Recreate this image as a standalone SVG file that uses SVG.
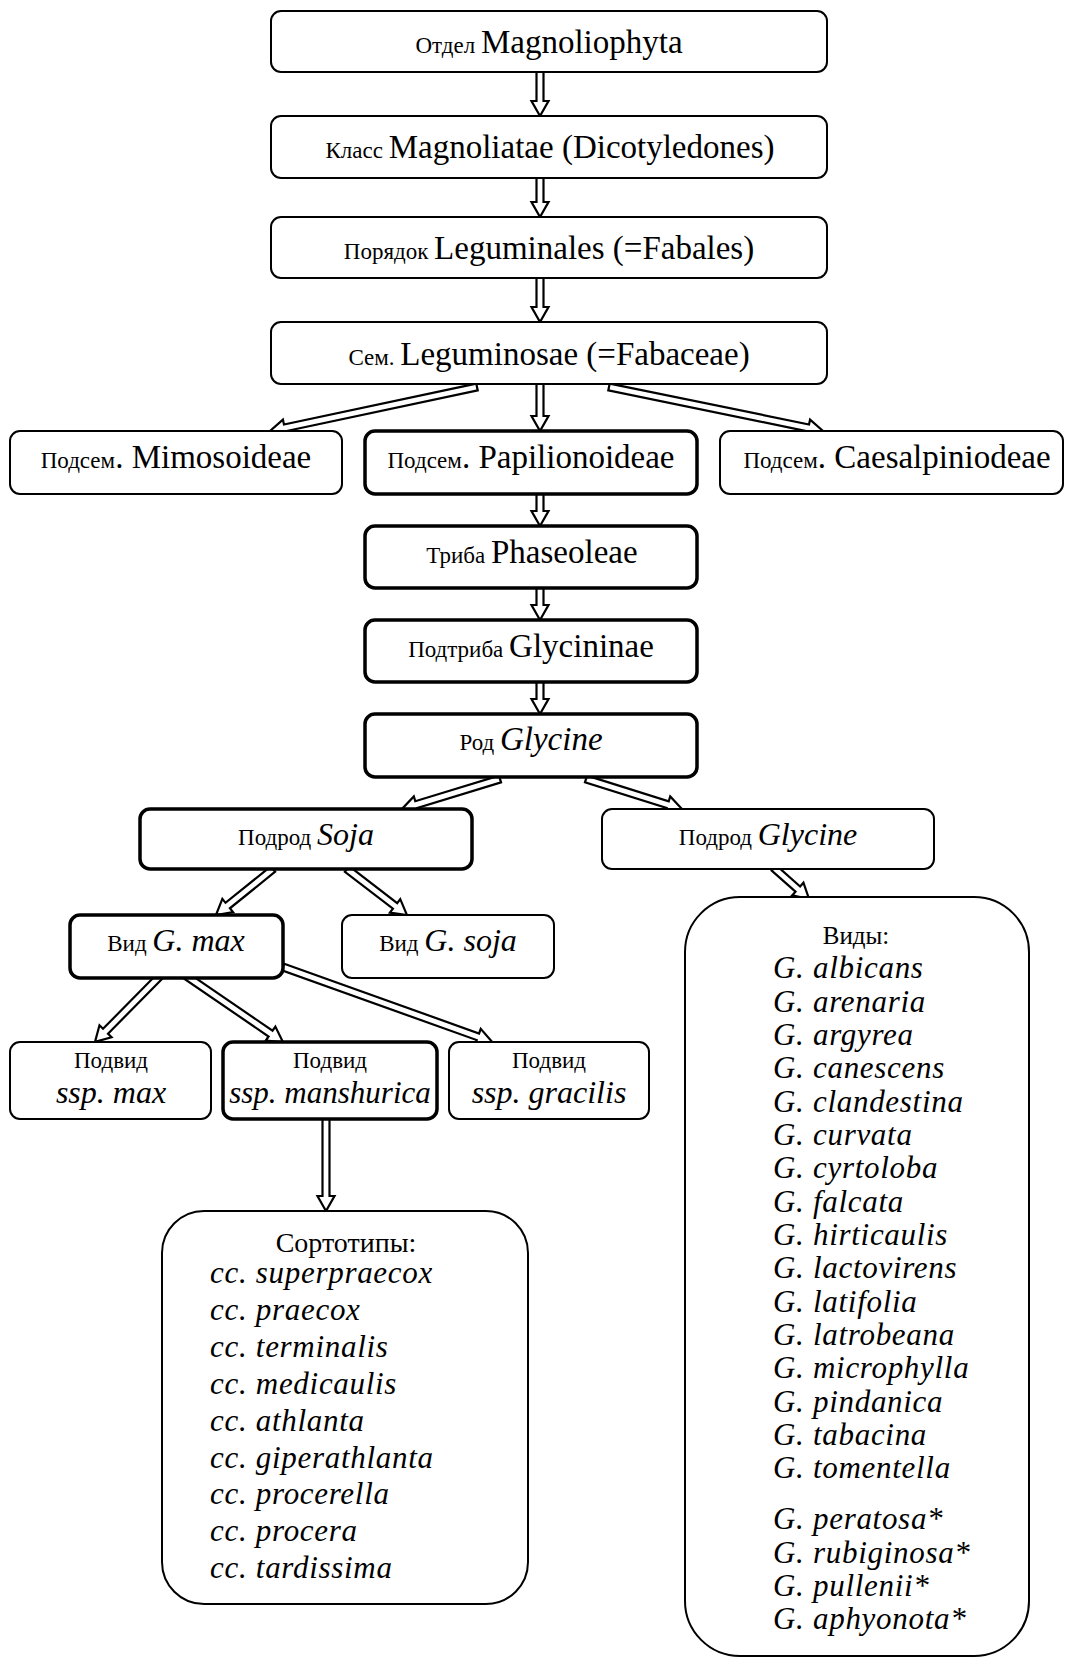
<svg xmlns="http://www.w3.org/2000/svg" width="1068" height="1658" viewBox="0 0 1068 1658">
<style>
.box{fill:#fff;stroke:#000;stroke-width:2}
.thick{stroke-width:3.5}
.arr{fill:#fff;stroke:#000;stroke-width:2.2;stroke-linejoin:miter}
text{font-family:"Liberation Serif","Times New Roman",serif;fill:#000}
.c{text-anchor:middle}
.b{font-size:33px}
.s{font-size:23px}
.i{font-style:italic}
.m{font-size:32px}
.l{font-size:31px;font-style:italic;letter-spacing:0.7px}
</style>
<rect width="1068" height="1658" fill="#fff"/>
<g id="connectors">
<g transform="translate(540,72) rotate(90)"><path class="arr" d="M0,-3.5 H29 V-8.5 L44,0 L29,8.5 V3.5 H0 Z"/></g>
<g transform="translate(540,178) rotate(90)"><path class="arr" d="M0,-3.5 H24 V-8.5 L39,0 L24,8.5 V3.5 H0 Z"/></g>
<g transform="translate(540,278) rotate(90)"><path class="arr" d="M0,-3.5 H29 V-8.5 L44,0 L29,8.5 V3.5 H0 Z"/></g>
<g transform="translate(540,384) rotate(90)"><path class="arr" d="M0,-3.5 H32 V-8.5 L47,0 L32,8.5 V3.5 H0 Z"/></g>
<g transform="translate(540,494) rotate(90)"><path class="arr" d="M0,-3.5 H17 V-8.5 L32,0 L17,8.5 V3.5 H0 Z"/></g>
<g transform="translate(540,588) rotate(90)"><path class="arr" d="M0,-3.5 H17 V-8.5 L32,0 L17,8.5 V3.5 H0 Z"/></g>
<g transform="translate(540,682) rotate(90)"><path class="arr" d="M0,-3.5 H17 V-8.5 L32,0 L17,8.5 V3.5 H0 Z"/></g>
<g transform="translate(326,1119) rotate(90)"><path class="arr" d="M0,-3.5 H77 V-8.5 L92,0 L77,8.5 V3.5 H0 Z"/></g>
<g transform="translate(477,387) rotate(168)"><path class="arr" d="M0,-3.5 H196.6 V-8.5 L211.6,0 L196.6,8.5 V3.5 H0 Z"/></g>
<g transform="translate(609,387) rotate(11.6)"><path class="arr" d="M0,-3.5 H203.5 V-8.5 L218.5,0 L203.5,8.5 V3.5 H0 Z"/></g>
<g transform="translate(500,779) rotate(163)"><path class="arr" d="M0,-3.5 H87.5 V-8.5 L102.5,0 L87.5,8.5 V3.5 H0 Z"/></g>
<g transform="translate(586,779) rotate(17.4)"><path class="arr" d="M0,-3.5 H85.6 V-8.5 L100.6,0 L85.6,8.5 V3.5 H0 Z"/></g>
<g transform="translate(273,869) rotate(141.1)"><path class="arr" d="M0,-3.5 H58.2 V-8.5 L73.2,0 L58.2,8.5 V3.5 H0 Z"/></g>
<g transform="translate(347,869) rotate(37.5)"><path class="arr" d="M0,-3.5 H60.6 V-8.5 L75.6,0 L60.6,8.5 V3.5 H0 Z"/></g>
<g transform="translate(774,868) rotate(41.5)"><path class="arr" d="M0,-3.5 H31.8 V-8.5 L46.8,0 L31.8,8.5 V3.5 H0 Z"/></g>
<g transform="translate(161,975) rotate(134.6)"><path class="arr" d="M0,-3.5 H79 V-8.5 L94,0 L79,8.5 V3.5 H0 Z"/></g>
<g transform="translate(185,975) rotate(34.4)"><path class="arr" d="M0,-3.5 H103.7 V-8.5 L118.7,0 L103.7,8.5 V3.5 H0 Z"/></g>
<g transform="translate(283,967) rotate(19.7)"><path class="arr" d="M0,-3.5 H207 V-8.5 L222,0 L207,8.5 V3.5 H0 Z"/></g>
</g>
<g id="otdel"><rect class="box" x="271" y="11" width="556" height="61" rx="10"/><text class="c" x="549" y="53"><tspan class="s">Отдел </tspan><tspan class="b">Magnoliophyta</tspan></text></g>
<g id="klass"><rect class="box" x="271" y="116" width="556" height="62" rx="10"/><text class="c" x="550" y="158"><tspan class="s">Класс </tspan><tspan class="b">Magnoliatae (Dicotyledones)</tspan></text></g>
<g id="poryadok"><rect class="box" x="271" y="217" width="556" height="61" rx="10"/><text class="c" x="549" y="259"><tspan class="s">Порядок </tspan><tspan class="b">Leguminales (=Fabales)</tspan></text></g>
<g id="sem"><rect class="box" x="271" y="322" width="556" height="62" rx="10"/><text class="c" x="549" y="365"><tspan class="s">Сем. </tspan><tspan class="b">Leguminosae (=Fabaceae)</tspan></text></g>
<g id="mimosoideae"><rect class="box" x="10" y="431" width="332" height="63" rx="10"/><text class="c" x="176" y="468"><tspan class="s">Подсем</tspan><tspan class="b">. Mimosoideae</tspan></text></g>
<g id="papilionoideae"><rect class="box thick" x="365" y="431" width="332" height="63" rx="10"/><text class="c" x="531" y="468"><tspan class="s">Подсем</tspan><tspan class="b">. Papilionoideae</tspan></text></g>
<g id="caesalpiniodeae"><rect class="box" x="720" y="431" width="343" height="63" rx="10"/><text class="c" x="897" y="468"><tspan class="s">Подсем</tspan><tspan class="b">. Caesalpiniodeae</tspan></text></g>
<g id="triba"><rect class="box thick" x="365" y="526" width="332" height="62" rx="10"/><text class="c" x="532" y="563"><tspan class="s">Триба </tspan><tspan class="b">Phaseoleae</tspan></text></g>
<g id="podtriba"><rect class="box thick" x="365" y="620" width="332" height="62" rx="10"/><text class="c" x="531" y="657"><tspan class="s">Подтриба </tspan><tspan class="b">Glycininae</tspan></text></g>
<g id="rod"><rect class="box thick" x="365" y="714" width="332" height="63" rx="10"/><text class="c" x="531" y="750"><tspan class="s">Род </tspan><tspan class="b i">Glycine</tspan></text></g>
<g id="podrod-soja"><rect class="box thick" x="140" y="809" width="332" height="60" rx="10"/><text class="c" x="306" y="845"><tspan class="s">Подрод </tspan><tspan class="m i">Soja</tspan></text></g>
<g id="podrod-glycine"><rect class="box" x="602" y="809" width="332" height="60" rx="10"/><text class="c" x="768" y="845"><tspan class="s">Подрод </tspan><tspan class="m i">Glycine</tspan></text></g>
<g id="vid-gmax"><rect class="box thick" x="70" y="915" width="213" height="63" rx="10"/><text class="c" x="176" y="951"><tspan class="s">Вид </tspan><tspan class="m i">G. max</tspan></text></g>
<g id="vid-gsoja"><rect class="box" x="342" y="915" width="212" height="63" rx="10"/><text class="c" x="448" y="951"><tspan class="s">Вид </tspan><tspan class="m i">G. soja</tspan></text></g>
<g id="ssp-max"><rect class="box" x="10" y="1042" width="201" height="77" rx="10"/><text class="c s" x="111" y="1068">Подвид</text><text class="c i" x="111" y="1103" font-size="32">ssp. max</text></g>
<g id="ssp-manshurica"><rect class="box thick" x="223" y="1042" width="214" height="77" rx="10"/><text class="c s" x="330" y="1068">Подвид</text><text class="c i" x="330" y="1103" font-size="31">ssp. manshurica</text></g>
<g id="ssp-gracilis"><rect class="box" x="449" y="1042" width="200" height="77" rx="10"/><text class="c s" x="549" y="1068">Подвид</text><text class="c i" x="549" y="1103" font-size="32">ssp. gracilis</text></g>
<g id="sortotipy"><rect class="box" x="162" y="1211" width="366" height="393" rx="42" stroke-width="2.5"/>
<text class="c" x="346" y="1252" font-size="28">Сортотипы:</text>
<text class="l" x="210" y="1283">cc. superpraecox</text>
<text class="l" x="210" y="1320">cc. praecox</text>
<text class="l" x="210" y="1357">cc. terminalis</text>
<text class="l" x="210" y="1394">cc. medicaulis</text>
<text class="l" x="210" y="1431">cc. athlanta</text>
<text class="l" x="210" y="1468">cc. giperathlanta</text>
<text class="l" x="210" y="1504">cc. procerella</text>
<text class="l" x="210" y="1541">cc. procera</text>
<text class="l" x="210" y="1578">cc. tardissima</text>
</g>
<g id="vidy"><rect class="box" x="685" y="897" width="344" height="759" rx="55" stroke-width="2.5"/>
<text class="c" x="856" y="944" font-size="25">Виды:</text>
<text class="l" x="773" y="978">G. albicans</text>
<text class="l" x="773" y="1012">G. arenaria</text>
<text class="l" x="773" y="1045">G. argyrea</text>
<text class="l" x="773" y="1078">G. canescens</text>
<text class="l" x="773" y="1112">G. clandestina</text>
<text class="l" x="773" y="1145">G. curvata</text>
<text class="l" x="773" y="1178">G. cyrtoloba</text>
<text class="l" x="773" y="1212">G. falcata</text>
<text class="l" x="773" y="1245">G. hirticaulis</text>
<text class="l" x="773" y="1278">G. lactovirens</text>
<text class="l" x="773" y="1312">G. latifolia</text>
<text class="l" x="773" y="1345">G. latrobeana</text>
<text class="l" x="773" y="1378">G. microphylla</text>
<text class="l" x="773" y="1412">G. pindanica</text>
<text class="l" x="773" y="1445">G. tabacina</text>
<text class="l" x="773" y="1478">G. tomentella</text>
<text class="l" x="773" y="1529">G. peratosa*</text>
<text class="l" x="773" y="1563">G. rubiginosa*</text>
<text class="l" x="773" y="1596">G. pullenii*</text>
<text class="l" x="773" y="1629">G. aphyonota*</text>
</g>
</svg>
